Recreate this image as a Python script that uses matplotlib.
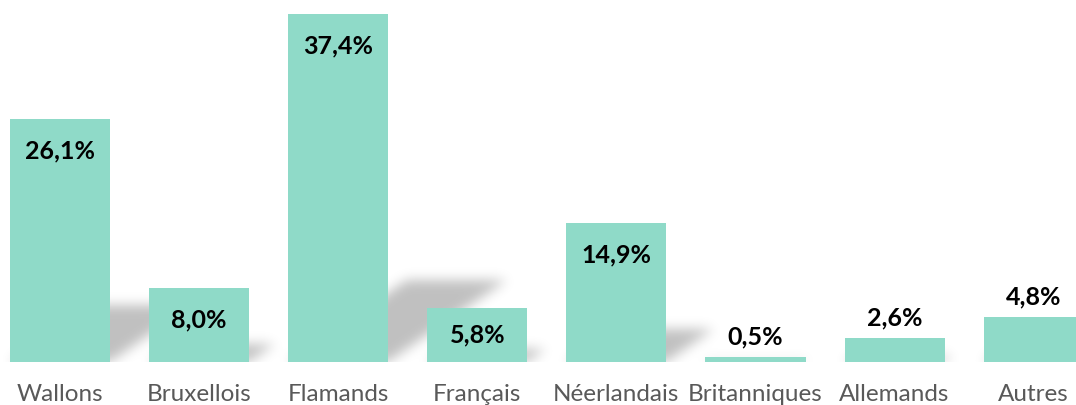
import numpy as np
import matplotlib
matplotlib.use("Agg")
import matplotlib.pyplot as plt

categories = ["Wallons", "Bruxellois", "Flamands", "Français", "Néerlandais",
              "Britanniques", "Allemands", "Autres"]
values = [26.1, 8.0, 37.4, 5.8, 14.9, 0.5, 2.6, 4.8]
labels = ["26,1%", "8,0%", "37,4%", "5,8%", "14,9%", "0,5%", "2,6%", "4,8%"]

bar_color = "#8fdac8"
text_gray = "#595959"

plt.rcParams["font.family"] = ["Lato", "DejaVu Sans"]

W, H = 1076, 405
fig = plt.figure(figsize=(W / 100, H / 100), dpi=100)
ax = fig.add_axes([0, 43 / H, 1, 362 / H])

x = np.arange(len(categories))
width = 0.72
xlim = (-0.431, 7.304)
ylim = (0, 38.9)

# soft drop shadow behind the bars (sheared, squashed silhouette, blurred)
nx, ny = W, 362
gx = np.linspace(xlim[0], xlim[1], nx)
gy = np.linspace(ylim[0], ylim[1], ny)
X, Y = np.meshgrid(gx, gy)
mask = np.zeros((ny, nx))
squash = 0.235
shear = 0.097
for xi, v in zip(x, values):
    x0 = xi - width / 2 + shear * Y
    x1 = xi + width / 2 + shear * Y
    inside = (Y <= squash * v) & (X >= x0) & (X <= x1)
    mask[inside] = 1.0

sigma = 6.0
kx = np.arange(-20, 21)
kern = np.exp(-kx ** 2 / (2 * sigma ** 2))
kern /= kern.sum()
pad = np.pad(mask, ((20, 20), (20, 20)), mode="constant")
blur = np.apply_along_axis(lambda r: np.convolve(r, kern, mode="same"), 1, pad)
blur = np.apply_along_axis(lambda c: np.convolve(c, kern, mode="same"), 0, blur)
blur = blur[20:-20, 20:-20]

rgba = np.zeros((ny, nx, 4))
rgba[..., 3] = blur * 0.25
ax.imshow(rgba, extent=[xlim[0], xlim[1], ylim[0], ylim[1]], origin="lower",
          aspect="auto", interpolation="bilinear", zorder=1)

ax.bar(x, values, width, color=bar_color, zorder=2)

for xi, v, lab in zip(x, values, labels):
    if v >= 5:
        y = max(v - 3.44, v / 2)
    else:
        y = v + 2.15
    ax.text(xi, y, lab, ha="center", va="center", fontsize=18,
            fontweight="bold", color="black", zorder=3)

ax.set_xlim(*xlim)
ax.set_ylim(*ylim)
ax.set_xticks(x, categories, fontsize=17.5, color=text_gray)
ax.tick_params(axis="x", length=0, pad=16)
ax.set_yticks([])
for s in ax.spines.values():
    s.set_visible(False)

fig.savefig("out.png", dpi=100)
